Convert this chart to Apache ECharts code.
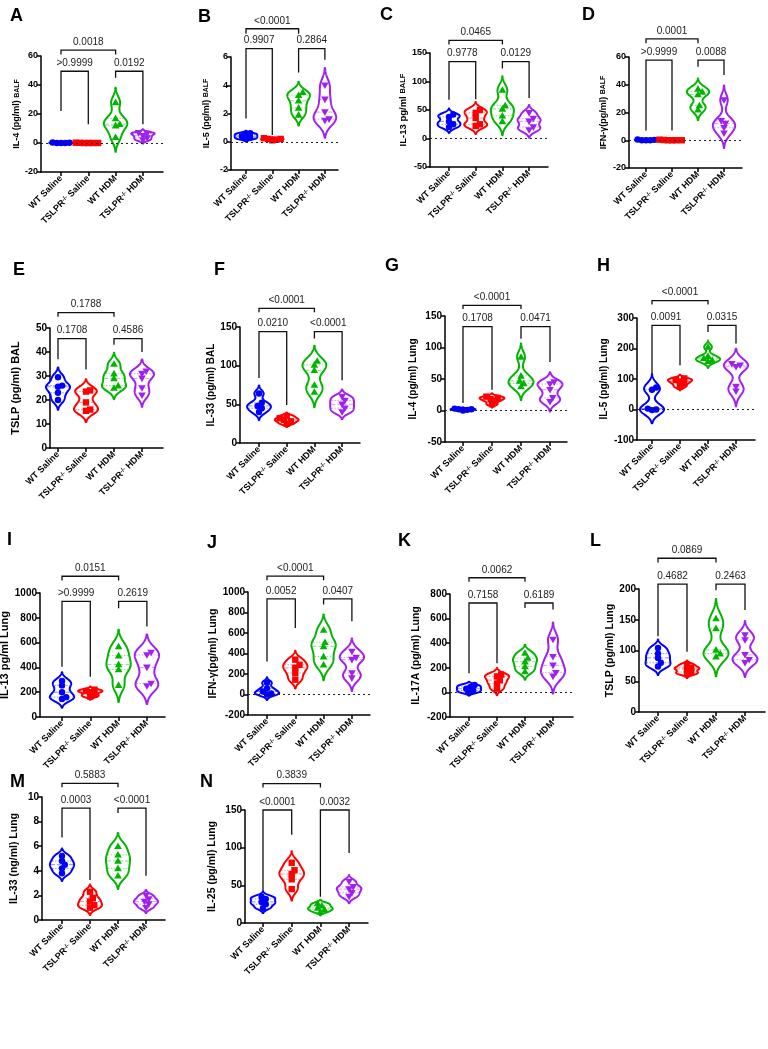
<!DOCTYPE html>
<html>
<head>
<meta charset="utf-8">
<script src="https://cdn.jsdelivr.net/npm/echarts@6/dist/echarts.min.js"></script>
<style>
html, body { margin: 0; padding: 0; background: #fff; }
#chart { width: 768px; height: 1049px; }
</style>
</head>
<body>
<div id="chart"></div>
<script>
// groups (same in every panel)
const groupNames = ['WT Saline', 'TSLPR{sup|-/-} Saline', 'WT HDM', 'TSLPR{sup|-/-} HDM'];
const groupColors = ['#0000ff', '#ff0000', '#00b400', '#a020f0'];
const groupSymbols = ['circle', 'square', 'triangle', 'down'];

const panelLetters = ['A', 'B', 'C', 'D', 'E', 'F', 'G', 'H', 'I', 'J', 'K', 'L', 'M', 'N'];
const yTitles = [
  'IL-4 (pg/ml) {s|BALF}', 'IL-5 (pg/ml) {s|BALF}', 'IL-13 pg/ml {s|BALF}', 'IFN-γ(pg/ml) {s|BALF}',
  'TSLP (pg/ml) BAL', 'IL-33 (pg/ml) BAL', 'IL-4 (pg/ml) Lung', 'IL-5 (pg/ml) Lung',
  'IL-13 pg/ml Lung', 'IFN-γ(pg/ml) Lung', 'IL-17A (pg/ml) Lung', 'TSLP (pg/ml) Lung',
  'IL-33 (ng/ml) Lung', 'IL-25 (pg/ml) Lung'
];
const yMins  = [-20, -2, -50, -20, 0, 0, -50, -100, 0, -200, -200, 0, 0, 0];
const yMaxs  = [60, 6, 150, 60, 50, 150, 150, 300, 1000, 1000, 800, 200, 10, 150];
const ySteps = [20, 2, 50, 20, 10, 50, 50, 100, 200, 200, 200, 50, 2, 50];

// per-animal values: [WT Saline, TSLPR Saline, WT HDM, TSLPR HDM]
const il4Balf   = [[0, 0, 0, 0.2, 0.3], [0, 0, 0, 0, 0.1, 0.2], [4, 12, 13, 17, 28], [2, 3.5, 5, 6.5, 7]];
const il5Balf   = [[0.2, 0.3, 0.4, 0.5, 0.6], [0.1, 0.15, 0.2, 0.2, 0.25], [1.9, 2.4, 2.9, 3.3, 3.5], [1.5, 1.6, 2.1, 3.0, 4.0]];
const il13Balf  = [[20, 25, 30, 38, 42], [22, 25, 36, 45, 50], [30, 40, 52, 58, 85], [15, 20, 30, 35, 45]];
const ifngBalf  = [[0, 0, 0, 0.3, 0.5], [0, 0, 0, 0, 0.2, 0.4], [22, 25, 33, 35, 37], [5, 9, 12, 14, 29]];
const tslpBal   = [[20, 23, 25.5, 26, 29.5], [15.5, 16, 19, 23.5, 24], [25, 26, 29, 31, 35], [22, 25, 29, 31, 32]];
const il33Bal   = [[40, 45, 48, 52, 64], [25, 28, 30, 32, 35], [66, 75, 94, 101, 106], [40, 45, 50, 55, 60]];
const il4Lung   = [[0, 1, 2, 2, 3], [10, 15, 18, 20, 22], [38, 43, 47, 55, 85], [14, 20, 33, 42, 45]];
const il5Lung   = [[-2, 0, 3, 65, 72], [75, 85, 92, 97, 102], [158, 162, 168, 175, 205], [60, 75, 140, 145, 150]];
const il13Lung  = [[145, 160, 200, 255, 290], [165, 180, 200, 210, 220], [257, 384, 424, 495, 568], [250, 270, 400, 500, 520]];
const ifngLung  = [[0, 10, 30, 60, 115], [145, 210, 260, 290, 340], [290, 370, 470, 510, 630], [160, 210, 340, 360, 420]];
const il17aLung = [[0, 15, 30, 45, 60], [30, 70, 100, 130, 145], [170, 210, 250, 280, 320], [130, 160, 220, 290, 430]];
const tslpLung  = [[74, 80, 88, 95, 104], [62, 65, 70, 72, 77], [90, 95, 101, 136, 152], [80, 85, 93, 117, 125]];
const il33Lung  = [[3.8, 4.2, 4.5, 4.8, 5.2], [1.0, 1.2, 1.5, 1.8, 2.3], [3.6, 4.2, 4.8, 5.3, 6.0], [1.0, 1.3, 1.5, 1.7, 2.0]];
const il25Lung  = [[20, 25, 28, 32, 35], [45, 58, 65, 70, 80], [15, 18, 20, 23, 26], [35, 40, 45, 48, 55]];
const panelValues = [il4Balf, il5Balf, il13Balf, ifngBalf, tslpBal, il33Bal, il4Lung, il5Lung,
  il13Lung, ifngLung, il17aLung, tslpLung, il33Lung, il25Lung];

// p values: [WT Saline vs WT HDM, WT Saline vs TSLPR Saline, WT HDM vs TSLPR HDM]
const pValues = [
  ['0.0018', '>0.9999', '0.0192'], ['<0.0001', '0.9907', '0.2864'], ['0.0465', '0.9778', '0.0129'],
  ['0.0001', '>0.9999', '0.0088'], ['0.1788', '0.1708', '0.4586'], ['<0.0001', '0.0210', '<0.0001'],
  ['<0.0001', '0.1708', '0.0471'], ['<0.0001', '0.0091', '0.0315'], ['0.0151', '>0.9999', '0.2619'],
  ['<0.0001', '0.0052', '0.0407'], ['0.0062', '0.7158', '0.6189'], ['0.0869', '0.4682', '0.2463'],
  ['0.5883', '0.0003', '<0.0001'], ['0.3839', '<0.0001', '0.0032']
];
// bracket: [from group, to group, bar level, left leg end, right leg end] (axis units)
const brackets = [
  [[0, 2, 64, 61, 61], [0, 1, 49.5, 22, 13], [2, 3, 49.5, 45, 13]],
  [[0, 2, 8.0, 7.65, 7.65], [0, 1, 6.6, 1.65, 0.47], [2, 3, 6.6, 4.9, 5.8]],
  [[0, 2, 172, 165, 165], [0, 1, 135, 68, 69], [2, 3, 135, 123, 71]],
  [[0, 2, 73, 70, 70], [0, 1, 57.7, 7, 7], [2, 3, 57.7, 53, 47]],
  [[0, 2, 56.4, 54.7, 54.7], [0, 1, 45.6, 37, 32.7], [2, 3, 45.6, 43, 40]],
  [[0, 2, 174, 169, 169], [0, 1, 144, 84, 49], [2, 3, 144, 135, 81]],
  [[0, 2, 167, 161, 161], [0, 1, 133, 12, 33], [2, 3, 133, 114, 77]],
  [[0, 2, 357, 344, 344], [0, 1, 276, 101, 145], [2, 3, 276, 254, 216]],
  [[0, 2, 1135, 1100, 1100], [0, 1, 932, 405, 324], [2, 3, 932, 878, 730]],
  [[0, 2, 1154, 1115, 1115], [0, 1, 932, 323, 649], [2, 3, 932, 877, 714]],
  [[0, 2, 932, 900, 900], [0, 1, 727, 155, 237], [2, 3, 727, 687, 673]],
  [[0, 2, 250, 243, 243], [0, 1, 208, 123, 98], [2, 3, 208, 198, 166]],
  [[0, 2, 11.1, 10.8, 10.8], [0, 1, 9.1, 6.7, 3.25], [2, 3, 9.1, 8.7, 3.6]],
  [[0, 2, 185, 180, 180], [0, 1, 150, 37, 117], [2, 3, 150, 35, 93]]
];

// panel layout in px: y axis x, first group centre, group spacing, x axis end, axis top/bottom,
// name gap, name font, tick font, letter position
const layout = [
  { x: 41, c0: 61, sp: 27.3, end: 163, top: 56, bottom: 172, gap: 19, ns: 9, ts: 9, lx: 10, ly: 7 },
  { x: 231, c0: 246, sp: 26.3, end: 338, top: 57, bottom: 170, gap: 20, ns: 9, ts: 9, lx: 198, ly: 8 },
  { x: 430, c0: 449, sp: 26.7, end: 548, top: 53, bottom: 167, gap: 21, ns: 9.5, ts: 9, lx: 380, ly: 6 },
  { x: 629, c0: 646, sp: 26, end: 742, top: 57, bottom: 168, gap: 21, ns: 9, ts: 9, lx: 582, ly: 6 },
  { x: 50, c0: 58, sp: 28, end: 163, top: 328, bottom: 448, gap: 29, ns: 11, ts: 10, lx: 13, ly: 261 },
  { x: 240, c0: 259, sp: 27.7, end: 360, top: 327, bottom: 443, gap: 14, ns: 10, ts: 10, lx: 214, ly: 261 },
  { x: 445, c0: 463, sp: 29, end: 567, top: 316, bottom: 442, gap: 27, ns: 10, ts: 10, lx: 385, ly: 257 },
  { x: 637, c0: 652, sp: 28, end: 755, top: 318, bottom: 440, gap: 28, ns: 10, ts: 10, lx: 597, ly: 257 },
  { x: 40, c0: 62, sp: 28.3, end: 165, top: 593, bottom: 717, gap: 27, ns: 11, ts: 10, lx: 7, ly: 531 },
  { x: 248, c0: 267, sp: 28.3, end: 370, top: 592, bottom: 715, gap: 29, ns: 10.5, ts: 10, lx: 207, ly: 534 },
  { x: 450, c0: 469, sp: 28, end: 573, top: 594, bottom: 717, gap: 28, ns: 10.5, ts: 10, lx: 398, ly: 532 },
  { x: 639, c0: 658, sp: 29, end: 765, top: 589, bottom: 712, gap: 22, ns: 10.5, ts: 10, lx: 590, ly: 532 },
  { x: 42, c0: 62, sp: 28, end: 165, top: 797, bottom: 920, gap: 22, ns: 10.5, ts: 10, lx: 10, ly: 773 },
  { x: 245, c0: 263, sp: 28.7, end: 368, top: 810, bottom: 923, gap: 27, ns: 10.5, ts: 10, lx: 200, ly: 773 }
];

const FONT = '"Liberation Sans", Arial, sans-serif';

function quantile(sorted, q) {
  const pos = (sorted.length - 1) * q;
  const lo = Math.floor(pos), hi = Math.ceil(pos);
  return sorted[lo] + (sorted[hi] - sorted[lo]) * (pos - lo);
}

function markerShape(sym, x, y, color) {
  const r = 3.2;
  if (sym === 'circle') return { type: 'circle', shape: { cx: x, cy: y, r: r }, style: { fill: color } };
  if (sym === 'square') return { type: 'rect', shape: { x: x - r, y: y - r, width: 2 * r, height: 2 * r }, style: { fill: color } };
  if (sym === 'triangle') return { type: 'polygon', shape: { points: [[x, y - 3.8], [x + 3.8, y + 2.8], [x - 3.8, y + 2.8]] }, style: { fill: color } };
  return { type: 'polygon', shape: { points: [[x, y + 3.8], [x + 3.8, y - 2.8], [x - 3.8, y - 2.8]] }, style: { fill: color } };
}

function violinRenderer(p) {
  return function (params, api) {
    const g = params.dataIndex;
    const vals = panelValues[p][g].slice().sort((a, b) => a - b);
    const color = groupColors[g];
    const range = yMaxs[p] - yMins[p];
    const n = vals.length;
    const mean = vals.reduce((a, b) => a + b, 0) / n;
    const sd = Math.sqrt(vals.reduce((a, v) => a + (v - mean) * (v - mean), 0) / (n - 1));
    const h = Math.max(0.6 * 1.06 * sd * Math.pow(n, -0.2), range * 0.004);
    const dens = y => vals.reduce((a, v) => a + Math.exp(-0.5 * ((y - v) / h) * ((y - v) / h)), 0);
    const lo = vals[0] - 2.5 * h, hi = vals[n - 1] + 2.5 * h;
    const steps = 90;
    const samples = [];
    let maxD = 0;
    for (let k = 0; k <= steps; k++) {
      const y = lo + (hi - lo) * k / steps;
      const d = dens(y);
      samples.push([y, d]);
      if (d > maxD) maxD = d;
    }
    const halfW = api.size([1, 0])[0] * 0.43;
    const right = [], left = [];
    samples.forEach(([y, d]) => {
      const c = api.coord([g, y]);
      const w = d / maxD * halfW;
      right.push([c[0] + w, c[1]]);
      left.unshift([c[0] - w, c[1]]);
    });
    const children = [];
    children.push({
      type: 'polygon', shape: { points: right.concat(left) },
      style: { fill: '#fff', stroke: color, lineWidth: 2, lineJoin: 'round' }
    });
    [[0.25, [1.5, 1.5]], [0.5, [4, 2]], [0.75, [1.5, 1.5]]].forEach(([q, dash]) => {
      const y = quantile(vals, q);
      const c = api.coord([g, y]);
      const w = dens(y) / maxD * halfW - 1;
      if (w > 1) {
        children.push({
          type: 'line', shape: { x1: c[0] - w, y1: c[1], x2: c[0] + w, y2: c[1] },
          style: { stroke: color, opacity: 0.45, lineWidth: 1, lineDash: dash }
        });
      }
    });
    // simple swarm so close values spread sideways
    const placed = [];
    const minDist = 4.2, step = 1.4;
    vals.forEach(v => {
      const c = api.coord([g, v]);
      let off = 0;
      for (let k = 0; k < 40; k++) {
        off = (k % 2 === 1 ? 1 : -1) * Math.ceil(k / 2) * step;
        const ok = placed.every(pt => Math.hypot(pt[0] - (c[0] + off), pt[1] - c[1]) >= minDist);
        if (ok) break;
      }
      placed.push([c[0] + off, c[1]]);
    });
    placed.forEach(pt => children.push(markerShape(groupSymbols[g], pt[0], pt[1], color)));
    return { type: 'group', children: children };
  };
}

function bracketRenderer(p) {
  return function (params, api) {
    const b = brackets[p][params.dataIndex];
    const a1 = api.coord([b[0], b[2]]), a2 = api.coord([b[1], b[2]]);
    const l1 = api.coord([b[0], b[3]]), l2 = api.coord([b[1], b[4]]);
    return {
      type: 'group',
      children: [
        {
          type: 'polyline',
          shape: { points: [[l1[0], l1[1]], [a1[0], a1[1]], [a2[0], a2[1]], [l2[0], l2[1]]] },
          style: { stroke: '#111', lineWidth: 1.3, fill: null }
        },
        {
          type: 'text',
          style: {
            text: pValues[p][params.dataIndex], x: (a1[0] + a2[0]) / 2, y: a1[1] - 3,
            align: 'center', verticalAlign: 'bottom',
            fontSize: 10, fontFamily: FONT, fill: '#222'
          }
        }
      ]
    };
  };
}

const axisLine = { color: '#000', width: 1.5 };
const grids = [], xAxes = [], yAxes = [], series = [], titles = [];

layout.forEach((L, p) => {
  grids.push({ left: L.x, top: L.top, width: L.end - L.x, height: L.bottom - L.top, outerBoundsMode: 'none', containLabel: false });
  xAxes.push({
    gridIndex: p, type: 'value',
    min: (L.x - L.c0) / L.sp, max: (L.end - L.c0) / L.sp,
    splitLine: { show: false },
    axisLine: { onZero: false, lineStyle: axisLine },
    axisTick: { customValues: [0, 1, 2, 3], length: 4, lineStyle: axisLine },
    axisLabel: {
      customValues: [0, 1, 2, 3], rotate: 45, margin: 5,
      formatter: v => groupNames[Math.round(v)],
      fontSize: 9, fontWeight: 'bold', color: '#000', fontFamily: FONT,
      rich: { sup: { fontSize: 6, fontWeight: 'bold', color: '#000', fontFamily: FONT, verticalAlign: 'top' } }
    }
  });
  yAxes.push({
    gridIndex: p, type: 'value', min: yMins[p], max: yMaxs[p], interval: ySteps[p],
    name: yTitles[p], nameLocation: 'middle', nameRotate: 90, nameGap: L.gap,
    nameTextStyle: {
      fontSize: L.ns, fontWeight: 'bold', color: '#000', fontFamily: FONT,
      rich: { s: { fontSize: L.ns - 2, fontWeight: 'bold', color: '#000', fontFamily: FONT } }
    },
    splitLine: { show: false },
    axisLine: { show: true, onZero: false, lineStyle: axisLine },
    axisTick: { show: true, length: 4, lineStyle: axisLine },
    axisLabel: { fontSize: L.ts, fontWeight: 'bold', color: '#000', margin: 3, fontFamily: FONT, formatter: v => String(v) }
  });
  series.push({
    type: 'custom', xAxisIndex: p, yAxisIndex: p, clip: false, z: 2,
    data: brackets[p].map(b => [b[0], b[2]]),
    renderItem: bracketRenderer(p),
    markLine: yMins[p] < 0 ? {
      silent: true, symbol: ['none', 'none'], label: { show: false },
      lineStyle: { type: [2, 3], color: '#222', width: 1.2 },
      emphasis: { disabled: true },
      data: [{ yAxis: 0 }]
    } : undefined
  });
  series.push({
    type: 'custom', xAxisIndex: p, yAxisIndex: p, clip: false, z: 3,
    data: panelValues[p].map((vals, g) => [g, Math.max.apply(null, vals)]),
    renderItem: violinRenderer(p)
  });
  titles.push({
    text: panelLetters[p], left: L.lx, top: L.ly, padding: 0,
    textStyle: { fontSize: 18, fontWeight: 'bold', color: '#000', fontFamily: FONT }
  });
});

const chart = echarts.init(document.getElementById('chart'), null, { renderer: 'canvas' });
chart.setOption({
  animation: false,
  backgroundColor: '#fff',
  title: titles,
  grid: grids,
  xAxis: xAxes,
  yAxis: yAxes,
  series: series
});
</script>
</body>
</html>
